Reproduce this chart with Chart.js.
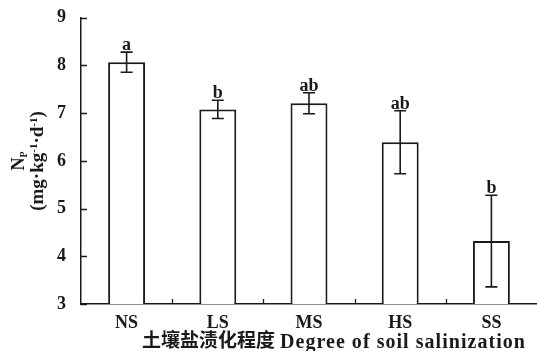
<!DOCTYPE html>
<html lang="zh">
  <head>
    <meta charset="UTF-8" />
    <title>Np soil salinization</title>
    <script src="https://cdn.jsdelivr.net/npm/chart.js@4"></script>
    <style>
      html, body { margin: 0; padding: 0; background: #fff; }
      #wrap { width: 537px; height: 351px; }
    </style>
  </head>
  <body>
    <div id="wrap"><canvas id="np-chart" width="537" height="351"></canvas></div>
    <script>
      const categories = ["NS", "LS", "MS", "HS", "SS"];
      const npMeans = [8.07, 7.08, 7.21, 6.39, 4.32];
      const npErrors = [0.21, 0.19, 0.22, 0.66, 0.96];
      const sigLetters = ["a", "b", "ab", "ab", "b"];
      const yTicks = [3, 4, 5, 6, 7, 8, 9];
      const xTitleZh = "土壤盐渍化程度";
      const xTitleEn = "Degree of soil salinization";

      const serif = "'Liberation Serif', 'Times New Roman', 'Noto Sans CJK SC', serif";
      const ink = "#1a1a1a";

      // error bars, letters, inward ticks and the two axis titles
      const extras = {
        id: "extras",
        afterDatasetsDraw(chart) {
          const c = chart.ctx;
          const x = chart.scales.x;
          const y = chart.scales.y;
          const area = chart.chartArea;
          c.save();
          c.strokeStyle = ink;
          c.fillStyle = ink;

          // error bars
          c.lineWidth = 1.6;
          npMeans.forEach((m, i) => {
            const px = x.getPixelForValue(i);
            const top = y.getPixelForValue(m + npErrors[i]);
            const bot = y.getPixelForValue(m - npErrors[i]);
            c.beginPath();
            c.moveTo(px, top); c.lineTo(px, bot);
            c.moveTo(px - 6, top); c.lineTo(px + 6, top);
            c.moveTo(px - 6, bot); c.lineTo(px + 6, bot);
            c.stroke();
            c.font = "bold 18px " + serif;
            c.textAlign = "center";
            c.textBaseline = "alphabetic";
            c.fillText(sigLetters[i], px, top - 2);
          });

          // inward ticks
          c.lineWidth = 1.3;
          c.beginPath();
          yTicks.forEach((v) => {
            const py = Math.round(y.getPixelForValue(v)) + 0.5;
            c.moveTo(area.left, py); c.lineTo(area.left + 6, py);
          });
          for (let i = 0; i < categories.length - 1; i++) {
            const px = Math.round(x.getPixelForValue(i + 0.5)) + 0.5;
            c.moveTo(px, area.bottom); c.lineTo(px, area.bottom - 5);
          }
          c.stroke();

          // x title: chinese part, then a wider english part
          c.textAlign = "left";
          c.textBaseline = "middle";
          c.font = "bold 19px " + serif;
          c.fillText(xTitleZh, 142, 342);
          c.font = "bold 20px " + serif;
          const enW = c.measureText(xTitleEn).width;
          const spacing = (245 - enW) / (xTitleEn.length - 1);
          c.letterSpacing = spacing.toFixed(2) + "px";
          c.fillText(xTitleEn, 280, 343);
          c.letterSpacing = "0px";

          // y title (rotated, two lines)
          c.translate(0, 161);
          c.rotate(-Math.PI / 2);
          c.textBaseline = "alphabetic";
          c.textAlign = "left";
          // line 1: N with subscript P
          c.font = "bold 18px " + serif;
          const nW = c.measureText("N").width;
          c.font = "bold 10px " + serif;
          const pW = c.measureText("P").width;
          let sx = -(nW + pW) / 2;
          c.font = "bold 18px " + serif;
          c.fillText("N", sx, 24);
          c.font = "bold 10px " + serif;
          c.fillText("P", sx + nW, 27);
          // line 2: (mg·kg-1·d-1)
          const parts = [
            ["(mg·kg", false], ["-1", true], ["·d", false], ["-1", true], [")", false]
          ];
          let total = 0;
          parts.forEach(([t, sup]) => {
            c.font = sup ? "bold 11px " + serif : "bold 19px " + serif;
            total += c.measureText(t).width;
          });
          sx = -total / 2;
          parts.forEach(([t, sup]) => {
            c.font = sup ? "bold 11px " + serif : "bold 19px " + serif;
            c.fillText(t, sx, sup ? 37 : 43);
            sx += c.measureText(t).width;
          });
          c.restore();
        },
      };

      const ctx = document.getElementById("np-chart").getContext("2d");
      const npChart = new Chart(ctx, {
        type: "bar",
        data: {
          labels: categories,
          datasets: [
            {
              data: npMeans,
              backgroundColor: "#ffffff",
              borderColor: ink,
              borderWidth: 2,
              borderSkipped: "bottom",
              barPercentage: 0.405,
              categoryPercentage: 1,
            },
          ],
        },
        options: {
          responsive: false,
          animation: false,
          devicePixelRatio: 1,
          layout: { padding: { top: 17, right: 0, left: 0, bottom: 0 } },
          plugins: {
            legend: { display: false },
            tooltip: { enabled: false },
          },
          scales: {
            x: {
              grid: { display: false },
              border: { display: true, color: ink, width: 1.5 },
              ticks: {
                color: ink,
                padding: 1,
                font: { family: serif, size: 18, weight: "bold" },
              },
              afterFit: (s) => { s.height = 47; },
            },
            y: {
              min: 3,
              max: 9,
              grid: { display: false },
              border: { display: true, color: ink, width: 1.5 },
              afterBuildTicks: (s) => { s.ticks = yTicks.map((v) => ({ value: v })); },
              ticks: {
                color: ink,
                padding: 7,
                font: { family: serif, size: 18, weight: "bold" },
              },
              afterFit: (s) => { s.width = 81; },
            },
          },
        },
        plugins: [extras],
      });
    </script>
  </body>
</html>
